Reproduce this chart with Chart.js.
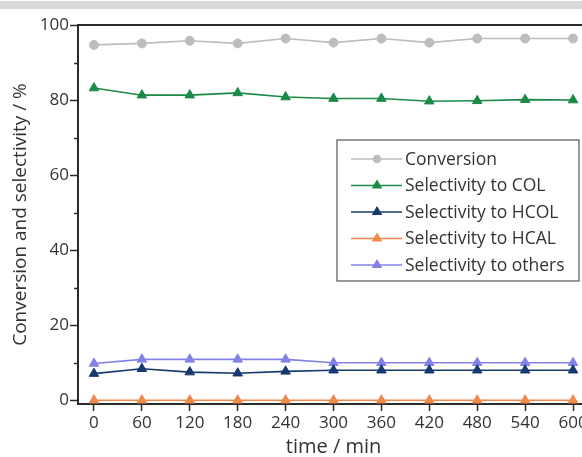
<!DOCTYPE html>
<html>
<head>
<meta charset="utf-8">
<script src="https://cdn.jsdelivr.net/npm/chart.js@4/dist/chart.umd.min.js"></script>
<style>
  html, body { margin: 0; padding: 0; background: #fff; overflow: hidden; }
  #wrap { position: relative; width: 582px; height: 457px; overflow: hidden; }
  #band { position: absolute; left: 0; top: 1px; width: 582px; height: 8px; background: #d8d8d8; }
  #box { position: absolute; left: 0; top: 0; width: 604px; height: 457px; }
</style>
</head>
<body>
<div id="wrap">
  <div id="box"><canvas id="c" width="604" height="457"></canvas></div>
  <div id="band"></div>
</div>
<script>
// Reaction time (min)
const times = [0, 60, 120, 180, 240, 300, 360, 420, 480, 540, 600];

// Conversion and product selectivities (%)
const conversion   = [94.7, 95.1, 95.8, 95.1, 96.4, 95.3, 96.4, 95.3, 96.4, 96.4, 96.4];
const selCOL       = [83.2, 81.3, 81.3, 81.9, 80.8, 80.4, 80.4, 79.7, 79.8, 80.1, 80.0];
const selHCOL      = [7.1, 8.4, 7.5, 7.2, 7.7, 8.0, 8.0, 8.0, 8.0, 8.0, 8.0];
const selHCAL      = [0, 0, 0, 0, 0, 0, 0, 0, 0, 0, 0];
const selOthers    = [9.8, 10.9, 10.9, 10.9, 10.9, 10.0, 10.0, 10.0, 10.0, 10.0, 10.0];

// Axis ticks
const xTicks = [0, 60, 120, 180, 240, 300, 360, 420, 480, 540, 600];
const yMajor = [0, 20, 40, 60, 80, 100];
const yMinor = [10, 30, 50, 70, 90];

const FONT = '"Open Sans", "DejaVu Sans", sans-serif';
const AXIS = '#2a2a2a';
const TEXT = '#333';

function pts(arr) { return arr.map((v, i) => ({ x: times[i], y: v })); }

function series(label, data, color, shape, radius) {
  return {
    label, data: pts(data),
    borderColor: color, backgroundColor: color,
    pointStyle: shape, pointRadius: radius, pointHoverRadius: radius,
    pointBorderWidth: 1, borderWidth: 1.6, tension: 0
  };
}

// Boxed legend drawn inside the plot area
const innerLegend = {
  id: 'innerLegend',
  afterDatasetsDraw(chart) {
    const ctx = chart.ctx;
    const x0 = 337, y0 = 140, w = 242, h = 141;
    ctx.save();
    ctx.fillStyle = '#fff';
    ctx.fillRect(x0, y0, w, h);
    ctx.strokeStyle = '#555';
    ctx.lineWidth = 1.2;
    ctx.strokeRect(x0, y0, w, h);
    ctx.font = '17.5px ' + FONT;
    ctx.textBaseline = 'middle';
    chart.data.datasets.forEach((ds, i) => {
      const y = y0 + 19 + i * 26.5;
      ctx.strokeStyle = ds.borderColor;
      ctx.lineWidth = ds.borderWidth;
      ctx.beginPath();
      ctx.moveTo(351, y);
      ctx.lineTo(402, y);
      ctx.stroke();
      ctx.fillStyle = ds.backgroundColor;
      Chart.helpers.drawPoint(ctx, {
        pointStyle: ds.pointStyle, radius: ds.pointRadius - 1,
        rotation: 0, borderWidth: 1
      }, 377, y);
      ctx.fillStyle = TEXT;
      ctx.fillText(ds.label, 405, y + 1);
    });
    ctx.restore();
  }
};

// Minor ticks on the value axis and the frame line along the top
const axisExtras = {
  id: 'axisExtras',
  afterDraw(chart) {
    const ctx = chart.ctx, ys = chart.scales.y, a = chart.chartArea;
    ctx.save();
    ctx.strokeStyle = AXIS;
    ctx.lineWidth = 1.5;
    yMinor.forEach(v => {
      const py = Math.round(ys.getPixelForValue(v)) + 0.5;
      ctx.beginPath();
      ctx.moveTo(a.left - 4, py);
      ctx.lineTo(a.left, py);
      ctx.stroke();
    });
    ctx.lineWidth = 2.2;
    ctx.beginPath();
    ctx.moveTo(a.left - 1, a.top);
    ctx.lineTo(a.right + 1, a.top);
    ctx.stroke();
    ctx.restore();
  }
};

new Chart(document.getElementById('c'), {
  type: 'line',
  data: {
    datasets: [
      series('Conversion', conversion, '#bdbdbd', 'circle', 4.5),
      series('Selectivity to COL', selCOL, '#1b8a47', 'triangle', 5.5),
      series('Selectivity to HCOL', selHCOL, '#173a6e', 'triangle', 5.5),
      series('Selectivity to HCAL', selHCAL, '#f0894c', 'triangle', 5.5),
      series('Selectivity to others', selOthers, '#8282e6', 'triangle', 5.5)
    ]
  },
  options: {
    responsive: false,
    animation: false,
    layout: { padding: { top: 25, right: 15, left: 0, bottom: 0 } },
    plugins: { legend: { display: false }, tooltip: { enabled: false } },
    scales: {
      x: {
        type: 'linear', min: -20, max: 620,
        afterBuildTicks(s) { s.ticks = xTicks.map(v => ({ value: v })); },
        afterFit(s) { s.height = 53; },
        border: { color: AXIS, width: 2 },
        grid: { drawOnChartArea: false, drawTicks: true, tickLength: 7, color: AXIS, tickWidth: 1.5 },
        ticks: { color: TEXT, font: { family: FONT, size: 17 }, padding: 2, maxRotation: 0, autoSkip: false },
        title: { display: true, text: 'time / min', color: TEXT, font: { family: FONT, size: 20, lineHeight: 0.95 }, padding: { top: 0, bottom: 0 } }
      },
      y: {
        type: 'linear', min: -1, max: 100,
        afterBuildTicks(s) { s.ticks = yMajor.map(v => ({ value: v })); },
        afterFit(s) { s.width = 78; },
        border: { color: AXIS, width: 2 },
        grid: { drawOnChartArea: false, drawTicks: true, tickLength: 8, color: AXIS, tickWidth: 1.5 },
        ticks: { color: TEXT, font: { family: FONT, size: 17 }, padding: 1 },
        title: { display: true, text: 'Conversion and selectivity / %', color: TEXT, font: { family: FONT, size: 19 }, padding: { top: 9, bottom: 0 } }
      }
    }
  },
  plugins: [innerLegend, axisExtras]
});
</script>
</body>
</html>
